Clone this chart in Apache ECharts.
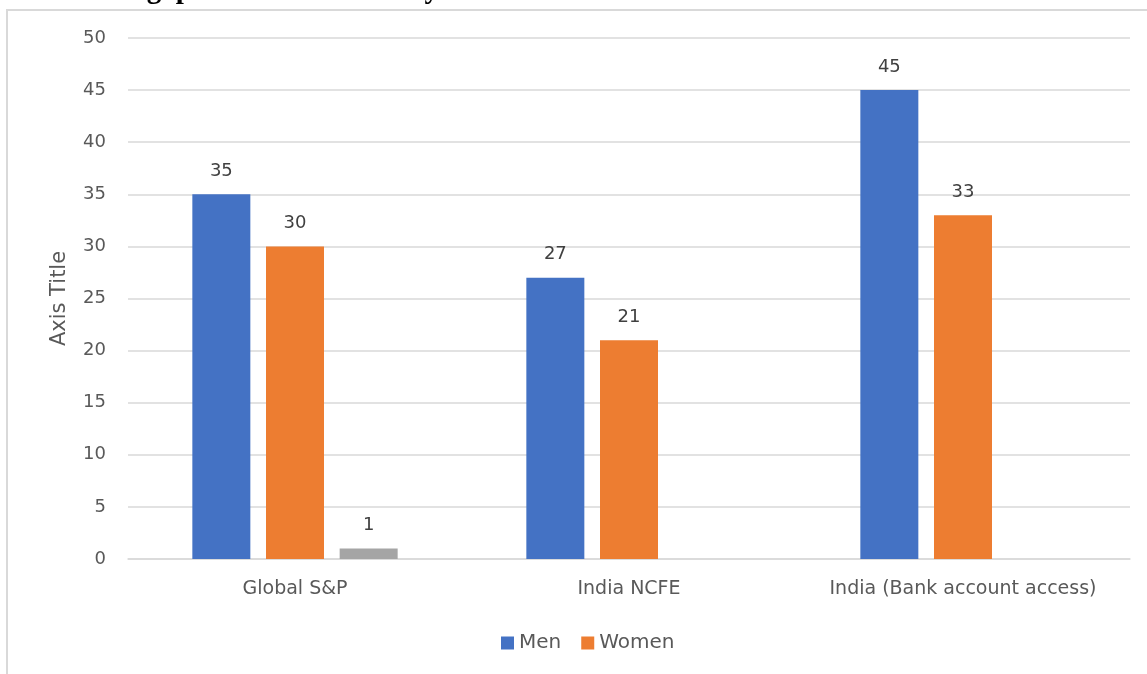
<!DOCTYPE html>
<html>
<head>
<meta charset="utf-8">
<script src="https://cdn.jsdelivr.net/npm/echarts@6/dist/echarts.min.js"></script>
<style>
  html, body { margin: 0; padding: 0; background: #fff; }
  #chart { width: 1147px; height: 674px; }
</style>
</head>
<body>
<div id="chart"></div>
<script>
// Categories and values per group
const categories = ['Global S&P', 'India NCFE', 'India (Bank account access)'];
const menValues = [35, 27, 45];
const womenValues = [30, 21, 33];
const otherValues = [1, null, null];
const yTicks = { min: 0, max: 50, interval: 5 };
const headingText = 'Gender gap in financial literacy';

const FONT = '"DejaVu Sans", "Open Sans", sans-serif';
const chart = echarts.init(document.getElementById('chart'), null, { renderer: 'canvas' });

const labelStyle = {
  show: true,
  position: 'top',
  distance: 14,
  color: '#404040',
  fontSize: 18,
  fontFamily: FONT
};

chart.setOption({
  animation: false,
  backgroundColor: '#ffffff',
  graphic: [
    {
      type: 'rect',
      shape: { x: 7, y: 10, width: 1160, height: 700 },
      style: { fill: 'none', stroke: '#d9d9d9', lineWidth: 2 },
      silent: true
    },
    {
      type: 'text',
      left: 46,
      top: -24,
      style: {
        text: headingText,
        fontFamily: '"Liberation Serif", "DejaVu Serif", serif',
        fontWeight: 'bold',
        fontSize: 29,
        fill: '#000000'
      },
      silent: true
    }
  ],
  grid: { left: 128, right: 17, top: 38, bottom: 115, containLabel: false },
  legend: {
    data: ['Men', 'Women'],
    bottom: 16,
    left: 496,
    itemWidth: 13,
    itemHeight: 13,
    itemGap: 20,
    icon: 'rect',
    textStyle: { color: '#595959', fontSize: 20, fontFamily: FONT }
  },
  xAxis: {
    type: 'category',
    data: categories,
    axisLine: { show: true, lineStyle: { color: '#d9d9d9', width: 1.5 } },
    axisTick: { show: false },
    axisLabel: { color: '#595959', fontSize: 19, fontFamily: FONT, margin: 21, interval: 0, hideOverlap: false }
  },
  yAxis: {
    type: 'value',
    min: yTicks.min,
    max: yTicks.max,
    interval: yTicks.interval,
    name: 'Axis Title',
    nameLocation: 'middle',
    nameGap: 58,
    nameRotate: 90,
    nameTextStyle: { color: '#595959', fontSize: 21, fontFamily: FONT },
    axisLine: { show: false },
    axisTick: { show: false },
    axisLabel: { color: '#595959', fontSize: 18, fontFamily: FONT, margin: 22 },
    splitLine: { lineStyle: { color: '#d9d9d9', width: 1.5 } }
  },
  series: [
    {
      name: 'Men', type: 'bar', data: menValues,
      itemStyle: { color: '#4472C4' },
      barWidth: 58, barGap: '27%',
      label: labelStyle
    },
    {
      name: 'Women', type: 'bar', data: womenValues,
      itemStyle: { color: '#ED7D31' },
      barWidth: 58, barGap: '27%',
      label: labelStyle
    },
    {
      name: 'Series3', type: 'bar', data: otherValues,
      itemStyle: { color: '#A5A5A5' },
      barWidth: 58, barGap: '27%',
      label: labelStyle
    }
  ]
});
</script>
</body>
</html>
